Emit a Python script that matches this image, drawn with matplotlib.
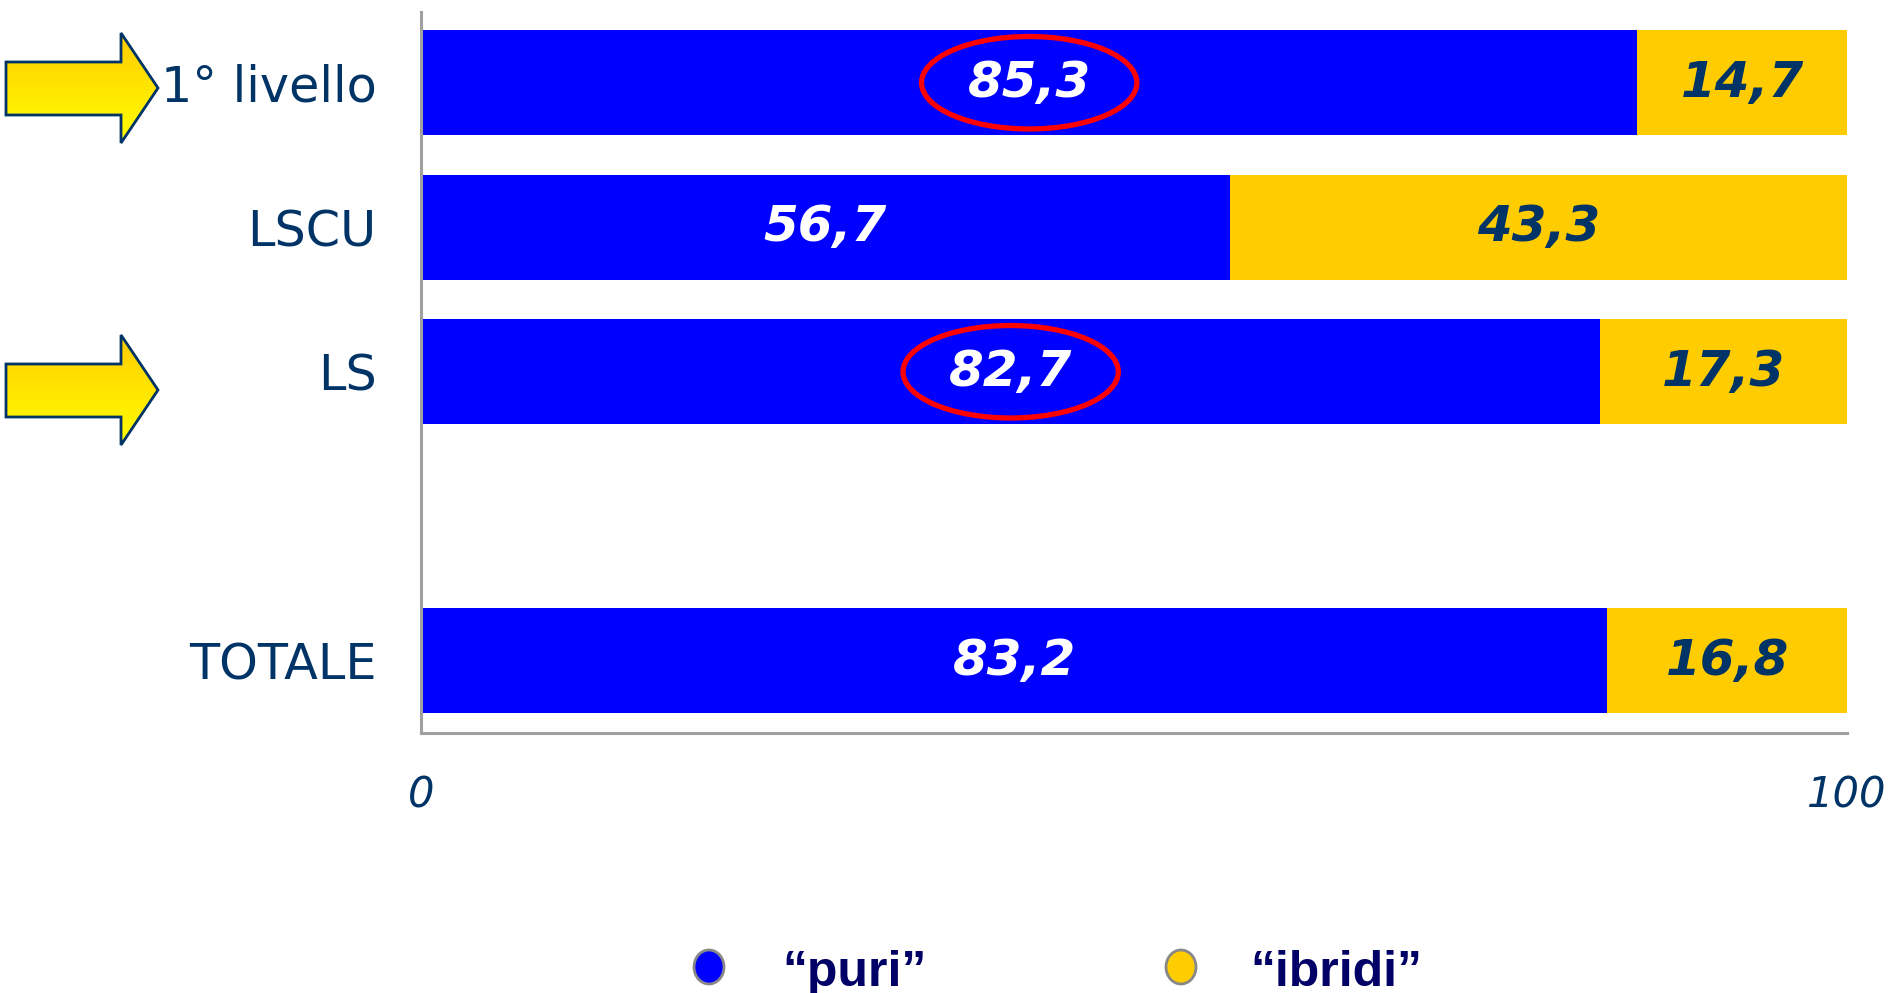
import numpy as np
import matplotlib.pyplot as plt
from matplotlib.patches import Ellipse, Polygon
from matplotlib.colors import LinearSegmentedColormap

# dati
categorie = ["1° livello", "LSCU", "LS", "TOTALE"]
puri = [85.3, 56.7, 82.7, 83.2]
ibridi = [14.7, 43.3, 17.3, 16.8]
serie = ["\u201cpuri\u201d", "\u201cibridi\u201d"]
evidenziati = ["1° livello", "LS"]   # cerchiati in rosso e con freccia

BLU = "#0000FF"
GIALLO = "#FFCC00"
NAVY = "#003366"

# righe: spazio vuoto prima di TOTALE
pos = [0, 1, 2, 4]

fig = plt.figure(figsize=(18.93, 9.93), dpi=100)
ax = fig.add_axes([0.2224, 0.2618, 0.7533, 0.7262])

h = 0.725
ax.barh(pos, puri, height=h, color=BLU, zorder=2)
ax.barh(pos, ibridi, left=puri, height=h, color=GIALLO, zorder=2)

for y, p, i in zip(pos, puri, ibridi):
    ax.text(p / 2, y, f"{p:.1f}".replace(".", ","), color="white", fontsize=36,
            fontweight="bold", fontstyle="italic", ha="center", va="center", zorder=4)
    ax.text(p + i / 2, y, f"{i:.1f}".replace(".", ","), color=NAVY, fontsize=36,
            fontweight="bold", fontstyle="italic", ha="center", va="center", zorder=4)

# ellissi rosse
for c in evidenziati:
    k = categorie.index(c)
    ax.add_patch(Ellipse((puri[k] / 2, pos[k]), 15.1, 0.64, fill=False,
                         edgecolor="#FF0000", lw=3.8, zorder=5))

ax.set_xlim(0, 100)
ax.set_ylim(4.5, -0.49)
ax.set_yticks(pos)
ax.set_yticklabels(categorie, fontsize=35.5, color=NAVY)
ax.set_xticks([0, 100])
ax.set_xticklabels(["0", "100"], fontsize=30, fontstyle="italic", color=NAVY)
ax.tick_params(axis="y", length=0, pad=32)
ax.tick_params(axis="x", length=0, pad=30)
for s in ["top", "right"]:
    ax.spines[s].set_visible(False)
for s in ["left", "bottom"]:
    ax.spines[s].set_color("#A0A0A0")
    ax.spines[s].set_linewidth(2.2)
    ax.spines[s].set_zorder(6)

# livello sovrapposto in pixel per frecce e legenda
ov = fig.add_axes([0, 0, 1, 1], zorder=-1)
ov.set_xlim(0, 1893)
ov.set_ylim(993, 0)
ov.axis("off")

cmap = LinearSegmentedColormap.from_list("freccia", ["#FFCC00", "#FFFF00"])
grad = np.linspace(0, 1, 100).reshape(-1, 1)
for ty in [88, 390]:
    pts = [(6, ty - 26), (121, ty - 26), (121, ty - 55), (158, ty),
           (121, ty + 55), (121, ty + 27), (6, ty + 27)]
    poly = Polygon(pts, closed=True, facecolor="none", edgecolor=NAVY, lw=2, zorder=3)
    ov.add_patch(poly)
    im = ov.imshow(grad, cmap=cmap, extent=(6, 158, ty + 55, ty - 55),
                   aspect="auto", zorder=2)
    im.set_clip_path(poly)
ov.set_xlim(0, 1893)
ov.set_ylim(993, 0)

# legenda
for xm, xt, nome, col in zip([709, 1181], [782, 1250], serie, [BLU, GIALLO]):
    ov.add_patch(Ellipse((xm, 967), 30, 34, facecolor=col, edgecolor="#888888", lw=2))
    ov.text(xt, 973, nome, fontsize=36, fontweight="bold", color="#000066",
            family="Liberation Sans", ha="left", va="center")

fig.savefig("out.png", dpi=100)
